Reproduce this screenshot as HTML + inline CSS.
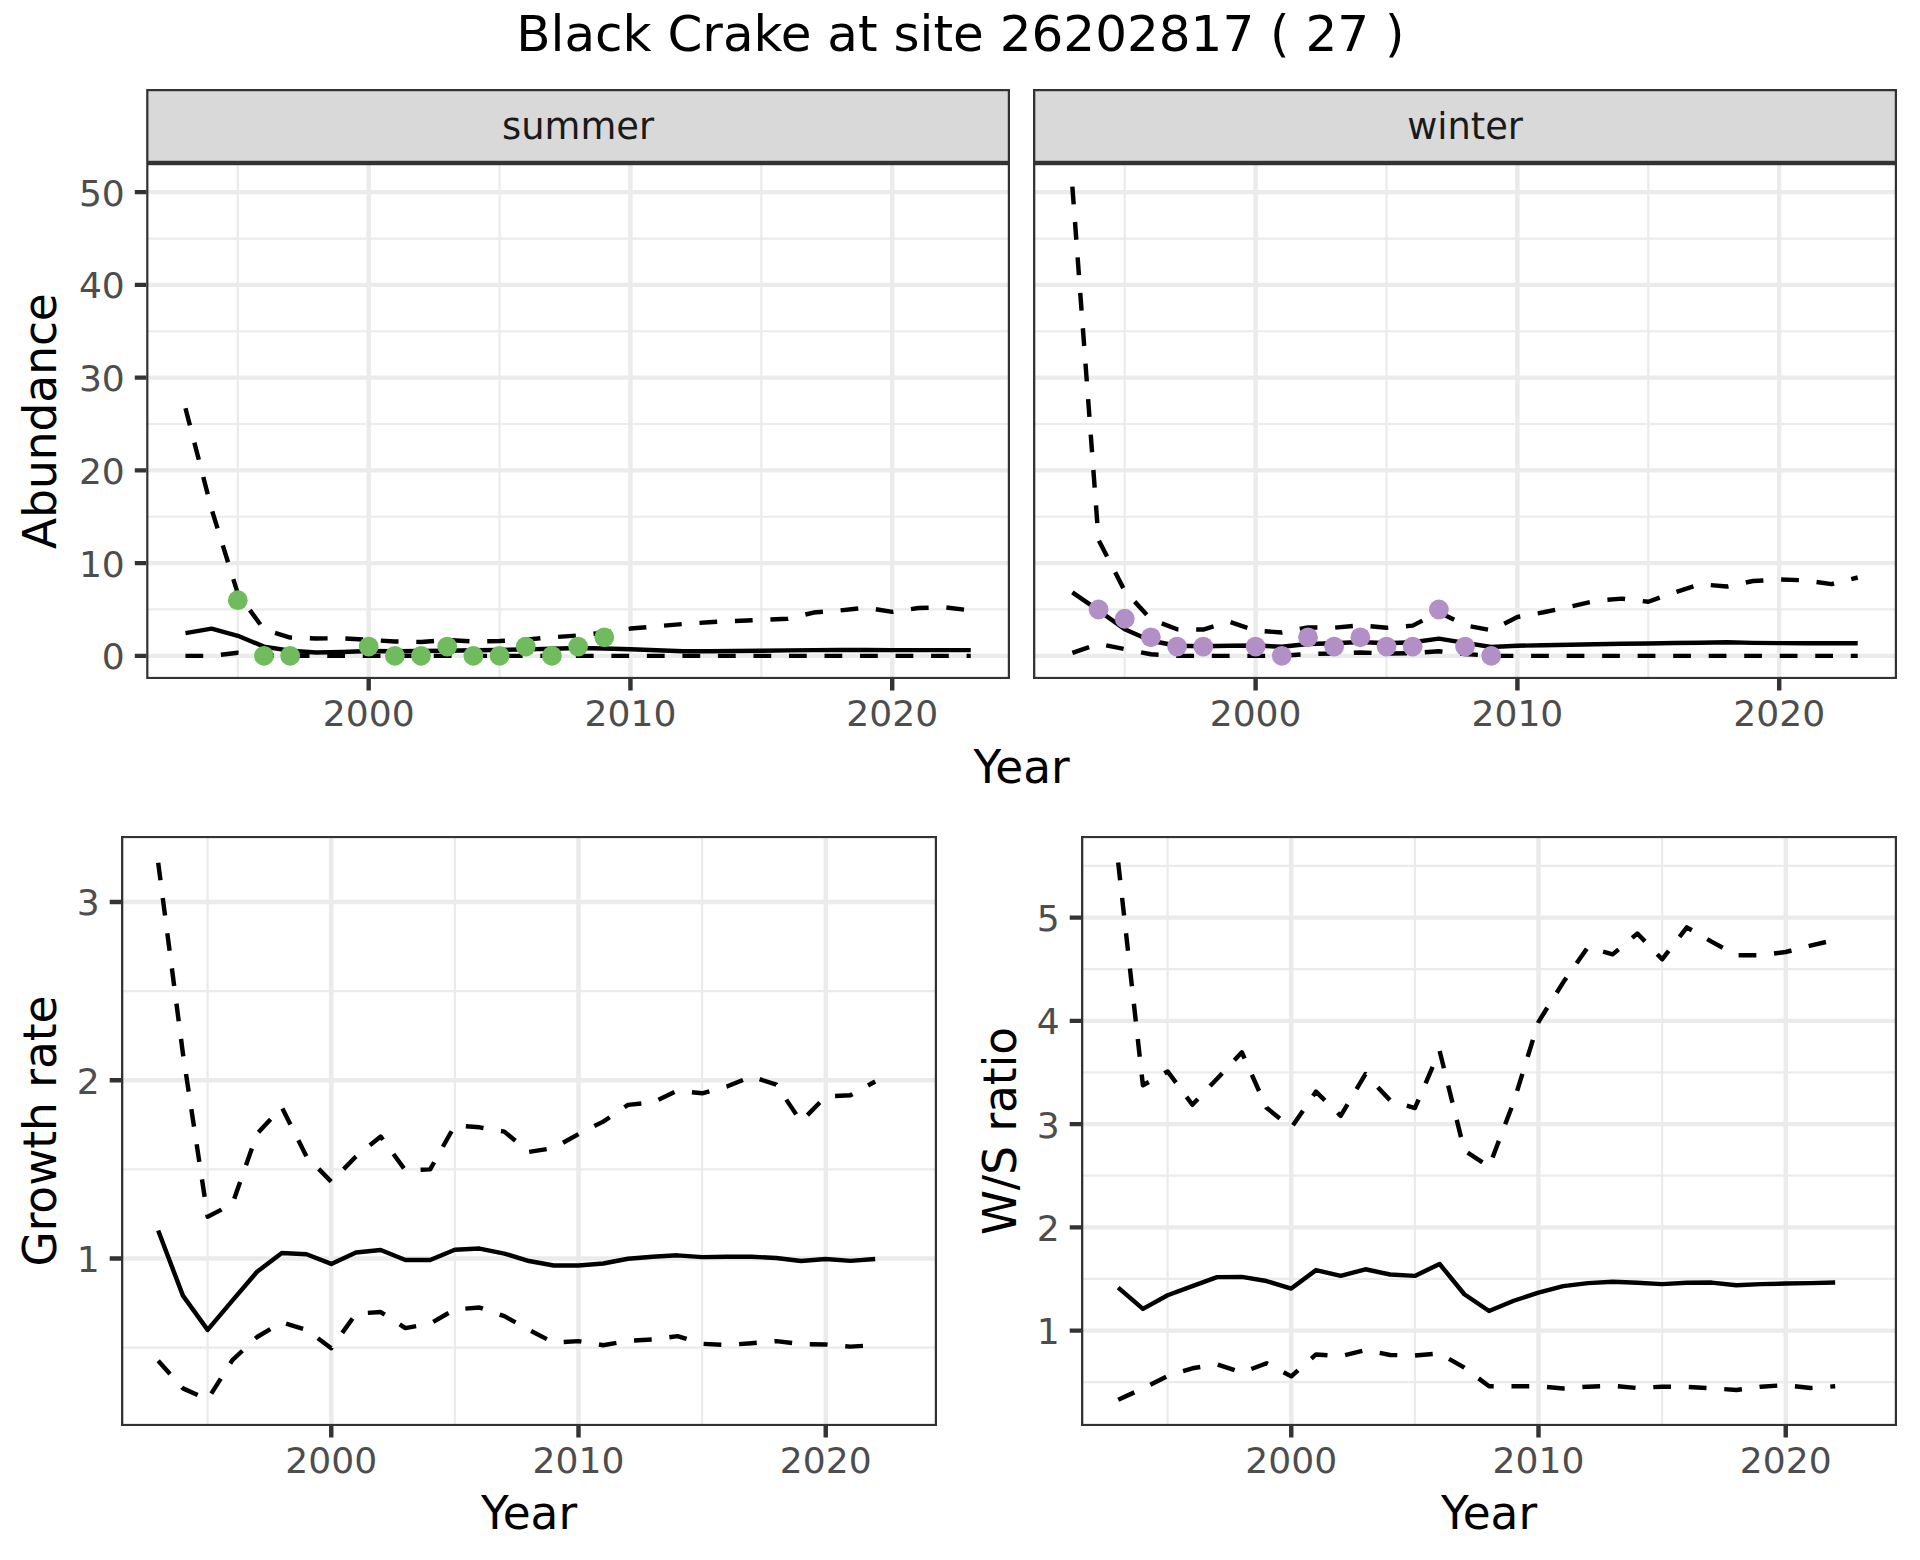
<!DOCTYPE html>
<html lang="en"><head><meta charset="utf-8"><title>Black Crake at site 26202817 ( 27 )</title>
<style>
html,body{margin:0;padding:0;background:#fff}
body{width:1920px;height:1560px;overflow:hidden}
svg{display:block}
text{font-family:"DejaVu Sans","Liberation Sans",sans-serif}
.ax{font-size:36.1px;fill:#4D4D4D}
.st{font-size:36.8px;fill:#1A1A1A}
.at{font-size:45.4px;fill:#000}
.ti{font-size:50.0px;fill:#000}
</style></head><body>
<svg width="1920" height="1560" viewBox="0 0 1920 1560">
<rect width="1920" height="1560" fill="#fff"/>
<clipPath id="ssummer"><rect x="146.2" y="89" width="863.8" height="74"/></clipPath>
<rect x="146.2" y="89" width="863.8" height="74" fill="#D9D9D9" stroke="#333333" stroke-width="4.44" clip-path="url(#ssummer)"/>
<text x="578.1" y="139" text-anchor="middle" class="st">summer</text>
<clipPath id="swinter"><rect x="1033.1" y="89" width="863.9" height="74"/></clipPath>
<rect x="1033.1" y="89" width="863.9" height="74" fill="#D9D9D9" stroke="#333333" stroke-width="4.44" clip-path="url(#swinter)"/>
<text x="1465.05" y="139" text-anchor="middle" class="st">winter</text>
<clipPath id="cA"><rect x="146.2" y="163" width="863.8" height="516.1"/></clipPath>
<g clip-path="url(#cA)">
<rect x="146.2" y="163" width="863.8" height="516.1" fill="#fff"/>
<path d="M146.2 609.48H1010M146.2 516.74H1010M146.2 424H1010M146.2 331.26H1010M146.2 238.52H1010M237.82 163V679.1M499.57 163V679.1M761.33 163V679.1" stroke="#EBEBEB" stroke-width="2.22" fill="none"/>
<path d="M146.2 655.85H1010M146.2 563.11H1010M146.2 470.37H1010M146.2 377.63H1010M146.2 284.89H1010M146.2 192.15H1010M368.69 163V679.1M630.45 163V679.1M892.21 163V679.1" stroke="#EBEBEB" stroke-width="4.44" fill="none"/>
<path d="M185.46 655.85 L211.64 655.85 L237.82 652.79 L263.99 655.39 L290.17 655.66 L316.34 655.85 L342.52 655.85 L368.69 655.85 L394.87 655.85 L421.05 655.85 L447.22 655.85 L473.4 655.85 L499.57 655.85 L525.75 655.85 L551.92 655.85 L578.1 655.85 L604.28 655.85 L630.45 655.85 L656.63 655.85 L682.8 655.85 L708.98 655.85 L735.15 655.85 L761.33 655.85 L787.51 655.85 L813.68 655.85 L839.86 655.85 L866.03 655.85 L892.21 655.85 L918.38 655.85 L944.56 655.85 L970.74 655.85" stroke="#000" stroke-width="4.44" fill="none" stroke-linejoin="round" stroke-linecap="butt" stroke-dasharray="17.76 17.76"/>
<path d="M185.46 408.23 L211.64 509.32 L237.82 593.71 L263.99 629.42 L290.17 637.58 L316.34 638.51 L342.52 638.23 L368.69 639.9 L394.87 641.48 L421.05 641.94 L447.22 640.08 L473.4 641.48 L499.57 641.01 L525.75 639.62 L551.92 637.3 L578.1 635.45 L604.28 632.67 L630.45 628.58 L656.63 626.27 L682.8 624.04 L708.98 622.19 L735.15 621.07 L761.33 619.87 L787.51 618.75 L813.68 612.54 L839.86 610.41 L866.03 607.72 L892.21 611.89 L918.38 608 L944.56 607.35 L970.74 610.41" stroke="#000" stroke-width="4.44" fill="none" stroke-linejoin="round" stroke-linecap="butt" stroke-dasharray="17.76 17.76"/>
<path d="M185.46 633.13 L211.64 628.68 L237.82 635.82 L263.99 646.58 L290.17 650.75 L316.34 652.51 L342.52 652.05 L368.69 651.03 L394.87 651.21 L421.05 651.03 L447.22 650.75 L473.4 650.29 L499.57 650.01 L525.75 649.36 L551.92 648.71 L578.1 647.97 L604.28 648.52 L630.45 649.17 L656.63 650.29 L682.8 651.21 L708.98 651.21 L735.15 651.03 L761.33 650.75 L787.51 650.38 L813.68 650.1 L839.86 649.91 L866.03 650.01 L892.21 650.1 L918.38 650.1 L944.56 650.1 L970.74 650.1" stroke="#000" stroke-width="4.44" fill="none" stroke-linejoin="round" stroke-linecap="butt"/>
<circle cx="237.82" cy="600.21" r="9.9" fill="#70BB5E"/>
<circle cx="263.99" cy="655.85" r="9.9" fill="#70BB5E"/>
<circle cx="290.17" cy="655.85" r="9.9" fill="#70BB5E"/>
<circle cx="368.69" cy="646.58" r="9.9" fill="#70BB5E"/>
<circle cx="394.87" cy="655.85" r="9.9" fill="#70BB5E"/>
<circle cx="421.05" cy="655.85" r="9.9" fill="#70BB5E"/>
<circle cx="447.22" cy="646.58" r="9.9" fill="#70BB5E"/>
<circle cx="473.4" cy="655.85" r="9.9" fill="#70BB5E"/>
<circle cx="499.57" cy="655.85" r="9.9" fill="#70BB5E"/>
<circle cx="525.75" cy="646.58" r="9.9" fill="#70BB5E"/>
<circle cx="551.92" cy="655.85" r="9.9" fill="#70BB5E"/>
<circle cx="578.1" cy="646.58" r="9.9" fill="#70BB5E"/>
<circle cx="604.28" cy="637.3" r="9.9" fill="#70BB5E"/>
<rect x="146.2" y="163" width="863.8" height="516.1" fill="none" stroke="#333333" stroke-width="4.44"/>
</g>
<path d="M134.8 655.85H146.2M134.8 563.11H146.2M134.8 470.37H146.2M134.8 377.63H146.2M134.8 284.89H146.2M134.8 192.15H146.2M368.69 679.1V690.5M630.45 679.1V690.5M892.21 679.1V690.5" stroke="#333333" stroke-width="4.44" fill="none"/>
<text x="124.83" y="669.25" text-anchor="end" class="ax">0</text>
<text x="124.83" y="576.51" text-anchor="end" class="ax">10</text>
<text x="124.83" y="483.77" text-anchor="end" class="ax">20</text>
<text x="124.83" y="391.03" text-anchor="end" class="ax">30</text>
<text x="124.83" y="298.29" text-anchor="end" class="ax">40</text>
<text x="124.83" y="205.55" text-anchor="end" class="ax">50</text>
<text x="368.69" y="725.97" text-anchor="middle" class="ax">2000</text>
<text x="630.45" y="725.97" text-anchor="middle" class="ax">2010</text>
<text x="892.21" y="725.97" text-anchor="middle" class="ax">2020</text>
<clipPath id="cB"><rect x="1033.1" y="163" width="863.9" height="516.1"/></clipPath>
<g clip-path="url(#cB)">
<rect x="1033.1" y="163" width="863.9" height="516.1" fill="#fff"/>
<path d="M1033.1 609.48H1897M1033.1 516.74H1897M1033.1 424H1897M1033.1 331.26H1897M1033.1 238.52H1897M1124.73 163V679.1M1386.51 163V679.1M1648.3 163V679.1" stroke="#EBEBEB" stroke-width="2.22" fill="none"/>
<path d="M1033.1 655.85H1897M1033.1 563.11H1897M1033.1 470.37H1897M1033.1 377.63H1897M1033.1 284.89H1897M1033.1 192.15H1897M1255.62 163V679.1M1517.41 163V679.1M1779.2 163V679.1" stroke="#EBEBEB" stroke-width="4.44" fill="none"/>
<path d="M1072.37 652.88 L1098.55 643.79 L1124.73 649.08 L1150.9 654.27 L1177.08 655.85 L1203.26 655.85 L1229.44 655.85 L1255.62 655.85 L1281.8 655.85 L1307.98 654 L1334.16 653.53 L1360.33 652.42 L1386.51 653.53 L1412.69 653.25 L1438.87 651.21 L1465.05 654 L1491.23 655.85 L1517.41 655.85 L1543.59 655.85 L1569.77 655.85 L1595.94 655.85 L1622.12 655.85 L1648.3 655.85 L1674.48 655.85 L1700.66 655.85 L1726.84 655.85 L1753.02 655.85 L1779.2 655.85 L1805.37 655.85 L1831.55 655.85 L1857.73 655.85" stroke="#000" stroke-width="4.44" fill="none" stroke-linejoin="round" stroke-linecap="butt" stroke-dasharray="17.76 17.76"/>
<path d="M1072.37 186.59 L1098.55 539.93 L1124.73 590.93 L1150.9 619.12 L1177.08 629.23 L1203.26 629.51 L1229.44 621.81 L1255.62 630.62 L1281.8 632.48 L1307.98 627.47 L1334.16 627.75 L1360.33 625.25 L1386.51 627.75 L1412.69 625.62 L1438.87 612.26 L1465.05 625.25 L1491.23 630.25 L1517.41 616.99 L1543.59 612.26 L1569.77 606.7 L1595.94 600.76 L1622.12 598.63 L1648.3 601.78 L1674.48 592.42 L1700.66 584.16 L1726.84 586.57 L1753.02 581.01 L1779.2 579.52 L1805.37 580.36 L1831.55 584.16 L1857.73 577.48" stroke="#000" stroke-width="4.44" fill="none" stroke-linejoin="round" stroke-linecap="butt" stroke-dasharray="17.76 17.76"/>
<path d="M1072.37 592.42 L1098.55 610.41 L1124.73 629.23 L1150.9 640.73 L1177.08 645.74 L1203.26 646.3 L1229.44 645.74 L1255.62 645.46 L1281.8 646.76 L1307.98 644.07 L1334.16 643.24 L1360.33 641.94 L1386.51 643.24 L1412.69 642.31 L1438.87 638.6 L1465.05 642.87 L1491.23 646.95 L1517.41 645.74 L1543.59 645.28 L1569.77 644.72 L1595.94 644.26 L1622.12 643.79 L1648.3 643.42 L1674.48 643.05 L1700.66 642.68 L1726.84 642.31 L1753.02 642.87 L1779.2 643.14 L1805.37 643.24 L1831.55 643.33 L1857.73 643.33" stroke="#000" stroke-width="4.44" fill="none" stroke-linejoin="round" stroke-linecap="butt"/>
<circle cx="1098.55" cy="609.48" r="9.9" fill="#B28FC7"/>
<circle cx="1124.73" cy="618.75" r="9.9" fill="#B28FC7"/>
<circle cx="1150.9" cy="637.3" r="9.9" fill="#B28FC7"/>
<circle cx="1177.08" cy="646.58" r="9.9" fill="#B28FC7"/>
<circle cx="1203.26" cy="646.58" r="9.9" fill="#B28FC7"/>
<circle cx="1255.62" cy="646.58" r="9.9" fill="#B28FC7"/>
<circle cx="1281.8" cy="655.85" r="9.9" fill="#B28FC7"/>
<circle cx="1307.98" cy="637.3" r="9.9" fill="#B28FC7"/>
<circle cx="1334.16" cy="646.58" r="9.9" fill="#B28FC7"/>
<circle cx="1360.33" cy="637.3" r="9.9" fill="#B28FC7"/>
<circle cx="1386.51" cy="646.58" r="9.9" fill="#B28FC7"/>
<circle cx="1412.69" cy="646.58" r="9.9" fill="#B28FC7"/>
<circle cx="1438.87" cy="609.48" r="9.9" fill="#B28FC7"/>
<circle cx="1465.05" cy="646.58" r="9.9" fill="#B28FC7"/>
<circle cx="1491.23" cy="655.85" r="9.9" fill="#B28FC7"/>
<rect x="1033.1" y="163" width="863.9" height="516.1" fill="none" stroke="#333333" stroke-width="4.44"/>
</g>
<path d="M1255.62 679.1V690.5M1517.41 679.1V690.5M1779.2 679.1V690.5" stroke="#333333" stroke-width="4.44" fill="none"/>
<text x="1255.62" y="725.97" text-anchor="middle" class="ax">2000</text>
<text x="1517.41" y="725.97" text-anchor="middle" class="ax">2010</text>
<text x="1779.2" y="725.97" text-anchor="middle" class="ax">2020</text>
<clipPath id="cC"><rect x="121.1" y="835.9" width="815.9" height="590.2"/></clipPath>
<g clip-path="url(#cC)">
<rect x="121.1" y="835.9" width="815.9" height="590.2" fill="#fff"/>
<path d="M121.1 1347.7H937M121.1 1169.4H937M121.1 991.1H937M207.63 835.9V1426.1M454.88 835.9V1426.1M702.12 835.9V1426.1M949.36 835.9V1426.1" stroke="#EBEBEB" stroke-width="2.22" fill="none"/>
<path d="M121.1 1258.55H937M121.1 1080.25H937M121.1 901.95H937M331.26 835.9V1426.1M578.5 835.9V1426.1M825.74 835.9V1426.1" stroke="#EBEBEB" stroke-width="4.44" fill="none"/>
<path d="M158.19 1360.72 L182.91 1388.35 L207.63 1399.41 L232.36 1360.18 L257.08 1337 L281.81 1322.38 L306.53 1329.87 L331.26 1348.23 L355.98 1313.64 L380.7 1312.04 L405.43 1328.09 L430.15 1323.63 L454.88 1309.37 L479.6 1307.58 L504.33 1316.14 L529.05 1329.87 L553.77 1342.71 L578.5 1341.1 L603.22 1345.2 L627.95 1340.75 L652.67 1339.5 L677.4 1336.11 L702.12 1343.78 L726.84 1345.03 L751.57 1343.24 L776.29 1341.1 L801.02 1344.13 L825.74 1344.49 L850.47 1346.63 L875.19 1345.2" stroke="#000" stroke-width="4.44" fill="none" stroke-linejoin="round" stroke-linecap="butt" stroke-dasharray="17.76 17.76"/>
<path d="M158.19 862.72 L182.91 1053.5 L207.63 1216.65 L232.36 1204.17 L257.08 1133.74 L281.81 1107.35 L306.53 1156.56 L331.26 1181.7 L355.98 1156.56 L380.7 1136.59 L405.43 1170.47 L430.15 1169.4 L454.88 1125.36 L479.6 1127.32 L504.33 1131.6 L529.05 1151.93 L553.77 1148 L578.5 1134.1 L603.22 1121.62 L627.95 1104.86 L652.67 1102.36 L677.4 1090.77 L702.12 1093.27 L726.84 1086.49 L751.57 1076.51 L776.29 1084.71 L801.02 1121.62 L825.74 1096.48 L850.47 1095.23 L875.19 1081.5" stroke="#000" stroke-width="4.44" fill="none" stroke-linejoin="round" stroke-linecap="butt" stroke-dasharray="17.76 17.76"/>
<path d="M158.19 1230.56 L182.91 1295.64 L207.63 1329.87 L232.36 1300.63 L257.08 1271.74 L281.81 1253.02 L306.53 1254.27 L331.26 1263.9 L355.98 1252.49 L380.7 1249.99 L405.43 1259.98 L430.15 1259.98 L454.88 1249.81 L479.6 1248.57 L504.33 1253.56 L529.05 1261.05 L553.77 1265.5 L578.5 1265.5 L603.22 1263.54 L627.95 1258.73 L652.67 1256.77 L677.4 1255.34 L702.12 1257.12 L726.84 1256.77 L751.57 1256.77 L776.29 1258.02 L801.02 1261.05 L825.74 1259.08 L850.47 1260.87 L875.19 1259.08" stroke="#000" stroke-width="4.44" fill="none" stroke-linejoin="round" stroke-linecap="butt"/>
<rect x="121.1" y="835.9" width="815.9" height="590.2" fill="none" stroke="#333333" stroke-width="4.44"/>
</g>
<path d="M109.7 1258.55H121.1M109.7 1080.25H121.1M109.7 901.95H121.1M331.26 1426.1V1437.5M578.5 1426.1V1437.5M825.74 1426.1V1437.5" stroke="#333333" stroke-width="4.44" fill="none"/>
<text x="99.73" y="1271.95" text-anchor="end" class="ax">1</text>
<text x="99.73" y="1093.65" text-anchor="end" class="ax">2</text>
<text x="99.73" y="915.35" text-anchor="end" class="ax">3</text>
<text x="331.26" y="1472.97" text-anchor="middle" class="ax">2000</text>
<text x="578.5" y="1472.97" text-anchor="middle" class="ax">2010</text>
<text x="825.74" y="1472.97" text-anchor="middle" class="ax">2020</text>
<clipPath id="cD"><rect x="1081.1" y="835.9" width="815.9" height="590.2"/></clipPath>
<g clip-path="url(#cD)">
<rect x="1081.1" y="835.9" width="815.9" height="590.2" fill="#fff"/>
<path d="M1081.1 1382.22H1897M1081.1 1278.97H1897M1081.1 1175.72H1897M1081.1 1072.47H1897M1081.1 969.22H1897M1081.1 865.97H1897M1167.63 835.9V1426.1M1414.88 835.9V1426.1M1662.12 835.9V1426.1M1909.36 835.9V1426.1" stroke="#EBEBEB" stroke-width="2.22" fill="none"/>
<path d="M1081.1 1330.6H1897M1081.1 1227.35H1897M1081.1 1124.1H1897M1081.1 1020.85H1897M1081.1 917.6H1897M1291.26 835.9V1426.1M1538.5 835.9V1426.1M1785.74 835.9V1426.1" stroke="#EBEBEB" stroke-width="4.44" fill="none"/>
<path d="M1118.19 1399.78 L1142.91 1388.42 L1167.63 1375.93 L1192.36 1368.29 L1217.08 1364.36 L1241.81 1372.62 L1266.53 1363.23 L1291.26 1376.34 L1315.98 1354.45 L1340.7 1356.21 L1365.43 1350.11 L1390.15 1354.97 L1414.88 1355.59 L1439.6 1353.42 L1464.33 1367.67 L1489.05 1386.25 L1513.77 1386.25 L1538.5 1386.25 L1563.22 1388.42 L1587.95 1386.66 L1612.67 1385.84 L1637.4 1388.01 L1662.12 1386.66 L1686.84 1386.87 L1711.57 1388.21 L1736.29 1389.97 L1761.02 1386.66 L1785.74 1385.12 L1810.47 1388.01 L1835.19 1386.25" stroke="#000" stroke-width="4.44" fill="none" stroke-linejoin="round" stroke-linecap="butt" stroke-dasharray="17.76 17.76"/>
<path d="M1118.19 862.57 L1142.91 1085.28 L1167.63 1071.44 L1192.36 1104.79 L1217.08 1078.67 L1241.81 1052.24 L1266.53 1107.79 L1291.26 1127.82 L1315.98 1091.58 L1340.7 1115.84 L1365.43 1074.02 L1390.15 1100.35 L1414.88 1108.1 L1439.6 1050.79 L1464.33 1150.53 L1489.05 1166.74 L1513.77 1101.69 L1538.5 1021.88 L1563.22 982.34 L1587.95 947.13 L1612.67 954.36 L1637.4 933.5 L1662.12 959.31 L1686.84 927.31 L1711.57 941.66 L1736.29 955.18 L1761.02 955.18 L1785.74 951.98 L1810.47 945.68 L1835.19 939.8" stroke="#000" stroke-width="4.44" fill="none" stroke-linejoin="round" stroke-linecap="butt" stroke-dasharray="17.76 17.76"/>
<path d="M1118.19 1287.65 L1142.91 1308.92 L1167.63 1295.29 L1192.36 1286.1 L1217.08 1277.12 L1241.81 1276.91 L1266.53 1281.04 L1291.26 1288.58 L1315.98 1270.1 L1340.7 1275.88 L1365.43 1269.27 L1390.15 1274.54 L1414.88 1275.88 L1439.6 1264 L1464.33 1294.26 L1489.05 1310.98 L1513.77 1300.76 L1538.5 1292.71 L1563.22 1286.1 L1587.95 1283.11 L1612.67 1281.76 L1637.4 1282.8 L1662.12 1284.14 L1686.84 1282.8 L1711.57 1282.59 L1736.29 1285.27 L1761.02 1284.14 L1785.74 1283.52 L1810.47 1283.11 L1835.19 1282.59" stroke="#000" stroke-width="4.44" fill="none" stroke-linejoin="round" stroke-linecap="butt"/>
<rect x="1081.1" y="835.9" width="815.9" height="590.2" fill="none" stroke="#333333" stroke-width="4.44"/>
</g>
<path d="M1069.7 1330.6H1081.1M1069.7 1227.35H1081.1M1069.7 1124.1H1081.1M1069.7 1020.85H1081.1M1069.7 917.6H1081.1M1291.26 1426.1V1437.5M1538.5 1426.1V1437.5M1785.74 1426.1V1437.5" stroke="#333333" stroke-width="4.44" fill="none"/>
<text x="1059.73" y="1344" text-anchor="end" class="ax">1</text>
<text x="1059.73" y="1240.75" text-anchor="end" class="ax">2</text>
<text x="1059.73" y="1137.5" text-anchor="end" class="ax">3</text>
<text x="1059.73" y="1034.25" text-anchor="end" class="ax">4</text>
<text x="1059.73" y="931" text-anchor="end" class="ax">5</text>
<text x="1291.26" y="1472.97" text-anchor="middle" class="ax">2000</text>
<text x="1538.5" y="1472.97" text-anchor="middle" class="ax">2010</text>
<text x="1785.74" y="1472.97" text-anchor="middle" class="ax">2020</text>
<text x="960.4" y="51.3" text-anchor="middle" class="ti">Black Crake at site 26202817 ( 27 )</text>
<text x="1021.6" y="782.6" text-anchor="middle" class="at">Year</text>
<text x="529.05" y="1528.9" text-anchor="middle" class="at">Year</text>
<text x="1489.05" y="1528.9" text-anchor="middle" class="at">Year</text>
<text transform="translate(56.3 421.05) rotate(-90)" text-anchor="middle" class="at">Abundance</text>
<text transform="translate(56.3 1131) rotate(-90)" text-anchor="middle" class="at">Growth rate</text>
<text transform="translate(1016.3 1131) rotate(-90)" text-anchor="middle" class="at">W/S ratio</text>
</svg>
</body></html>
